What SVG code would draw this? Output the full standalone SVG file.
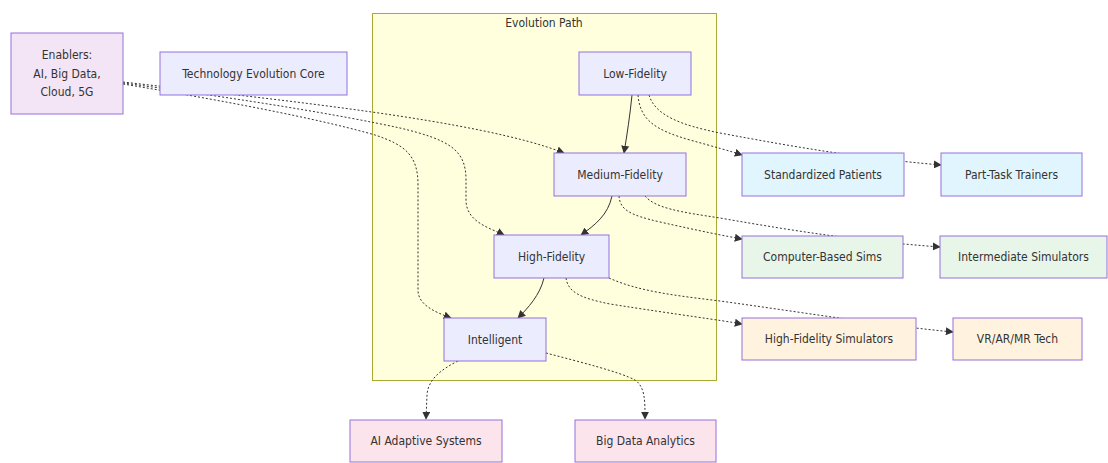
<svg xmlns="http://www.w3.org/2000/svg" width="1108" height="463" viewBox="0 0 1108 463">
<style>
.node rect{fill:#ECECFF;stroke:#9370DB;stroke-width:1}
.node text,.lbl{font-family:"DejaVu Sans Condensed","Liberation Sans",Arial,sans-serif;font-size:12px;fill:#333;text-anchor:middle;dominant-baseline:central}
.en rect{fill:#F3E5F5}
.blue rect{fill:#E1F5FE}
.green rect{fill:#E8F5E9}
.orange rect{fill:#FFF3E0}
.pink rect{fill:#FCE4EC}
.e{fill:none;stroke:#333;stroke-width:1}
.d{stroke-dasharray:2 2}
</style>
<defs>
<marker id="ah" viewBox="0 0 10 10" refX="9" refY="5" markerUnits="userSpaceOnUse" markerWidth="8" markerHeight="8" orient="auto">
<path d="M0,0 L10,5 L0,10 z" fill="#333"/>
</marker>
</defs>
<rect width="1108" height="463" fill="#fff"/>
<g id="cluster-evolution">
<rect x="372.5" y="13.5" width="344" height="367" fill="#ffffde" stroke="#aaaa33" stroke-width="1"/>
<text class="lbl" x="544" y="23">Evolution Path</text>
</g>
<g id="edges">
<path class="e d" d="M123,82 C280,100 480,120 564,153" marker-end="url(#ah)"/>
<path class="e d" d="M123,83 C250,100 340,115 400,128 C450,140 466,150 466,180 L466,200 C466,222 490,228 504,235" marker-end="url(#ah)"/>
<path class="e d" d="M123,84 C250,105 330,122 375,135 C405,145 418,155 418,185 L418,290 C418,305 435,312 451,318" marker-end="url(#ah)"/>
<path class="e" d="M632,95 C630,115 627,135 624,153" marker-end="url(#ah)"/>
<path class="e" d="M612,196 C608,215 595,225 581,235" marker-end="url(#ah)"/>
<path class="e" d="M544,278 C540,295 528,308 518,318" marker-end="url(#ah)"/>
<path class="e d" d="M638,95 C640,120 655,130 690,140 C715,147 730,151 742,155" marker-end="url(#ah)"/>
<path class="e d" d="M649,95 C655,115 680,125 720,133 C800,148 860,158 941,165" marker-end="url(#ah)"/>
<path class="e d" d="M619,196 C620,210 630,215 660,222 C700,231 725,236 742,239" marker-end="url(#ah)"/>
<path class="e d" d="M645,196 C655,208 680,212 720,218 C800,232 860,241 940,247" marker-end="url(#ah)"/>
<path class="e d" d="M566,278 C568,292 580,298 610,304 C680,315 720,320 742,324" marker-end="url(#ah)"/>
<path class="e d" d="M609,278 C640,292 680,296 720,301 C800,312 880,325 953,332" marker-end="url(#ah)"/>
<path class="e d" d="M458,361 C440,370 428,380 427,395 L426,419" marker-end="url(#ah)"/>
<path class="e d" d="M546,353 C580,362 620,372 635,380 C645,387 645,400 645,419" marker-end="url(#ah)"/>
</g>
<g id="enablers" class="node en">
<rect x="11" y="33" width="112" height="81"/>
<text x="67" y="55">Enablers:</text>
<text x="67" y="74">AI, Big Data,</text>
<text x="67" y="92">Cloud, 5G</text>
</g>
<g id="tech-core" class="node">
<rect x="160" y="52" width="187" height="43"/>
<text x="253.5" y="73.5">Technology Evolution Core</text>
</g>
<g id="low-fidelity" class="node">
<rect x="579" y="52" width="112" height="43"/>
<text x="635" y="73.5">Low-Fidelity</text>
</g>
<g id="medium-fidelity" class="node">
<rect x="554" y="153" width="132" height="43"/>
<text x="620" y="174.5">Medium-Fidelity</text>
</g>
<g id="high-fidelity" class="node">
<rect x="494" y="235" width="115" height="43"/>
<text x="551.5" y="256.5">High-Fidelity</text>
</g>
<g id="intelligent" class="node">
<rect x="444" y="318" width="102" height="43"/>
<text x="495" y="339.5">Intelligent</text>
</g>
<g id="standardized-patients" class="node blue">
<rect x="742" y="153" width="162" height="43"/>
<text x="823" y="174.5">Standardized Patients</text>
</g>
<g id="part-task-trainers" class="node blue">
<rect x="941" y="153" width="141" height="43"/>
<text x="1011.5" y="174.5">Part-Task Trainers</text>
</g>
<g id="computer-based-sims" class="node green">
<rect x="742" y="236" width="161" height="42"/>
<text x="822.5" y="257">Computer-Based Sims</text>
</g>
<g id="intermediate-simulators" class="node green">
<rect x="940" y="236" width="167" height="42"/>
<text x="1023.5" y="257">Intermediate Simulators</text>
</g>
<g id="high-fidelity-simulators" class="node orange">
<rect x="742" y="318" width="174" height="42"/>
<text x="829" y="339">High-Fidelity Simulators</text>
</g>
<g id="vr-ar-mr" class="node orange">
<rect x="953" y="318" width="129" height="42"/>
<text x="1017.5" y="339">VR/AR/MR Tech</text>
</g>
<g id="ai-adaptive" class="node pink">
<rect x="350" y="420" width="152" height="42"/>
<text x="426" y="441">AI Adaptive Systems</text>
</g>
<g id="big-data" class="node pink">
<rect x="575" y="420" width="141" height="42"/>
<text x="645.5" y="441">Big Data Analytics</text>
</g>
</svg>
